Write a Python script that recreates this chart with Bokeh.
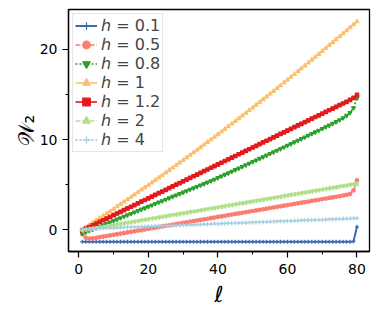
import math
from bokeh.plotting import figure
from bokeh.models import Range1d, SingleIntervalTicker, Legend, LegendItem
from bokeh.embed import file_html
from bokeh.resources import INLINE

ell = list(range(1, 81))

h_labels = ["ℎ = 0.1", "ℎ = 0.5", "ℎ = 0.8", "ℎ = 1", "ℎ = 1.2", "ℎ = 2", "ℎ = 4"]

w_h01 = [
    -1.35, -1.35, -1.35, -1.35, -1.35, -1.35, -1.35, -1.35, -1.35, -1.35,
    -1.35, -1.35, -1.35, -1.35, -1.35, -1.35, -1.35, -1.35, -1.35, -1.35,
    -1.35, -1.35, -1.35, -1.35, -1.35, -1.35, -1.35, -1.35, -1.35, -1.35,
    -1.35, -1.35, -1.35, -1.35, -1.35, -1.35, -1.35, -1.35, -1.35, -1.35,
    -1.35, -1.35, -1.35, -1.35, -1.35, -1.35, -1.35, -1.35, -1.35, -1.35,
    -1.35, -1.35, -1.35, -1.35, -1.35, -1.35, -1.35, -1.35, -1.35, -1.35,
    -1.35, -1.35, -1.35, -1.35, -1.35, -1.35, -1.35, -1.35, -1.35, -1.35,
    -1.35, -1.35, -1.35, -1.35, -1.35, -1.35, -1.35, -1.35, -1.32, 0.30,
]

w_h05 = [
    -0.50, -0.90, -1.00, -0.98, -0.91, -0.85, -0.78, -0.72, -0.65, -0.58,
    -0.52, -0.45, -0.39, -0.32, -0.25, -0.19, -0.12, -0.06, 0.01, 0.08,
    0.14, 0.21, 0.27, 0.34, 0.41, 0.47, 0.54, 0.60, 0.67, 0.74,
    0.80, 0.87, 0.93, 1.00, 1.07, 1.13, 1.20, 1.26, 1.33, 1.40,
    1.46, 1.53, 1.59, 1.66, 1.73, 1.79, 1.86, 1.92, 1.99, 2.06,
    2.12, 2.19, 2.25, 2.32, 2.39, 2.45, 2.52, 2.58, 2.65, 2.72,
    2.78, 2.85, 2.91, 2.98, 3.05, 3.11, 3.18, 3.24, 3.31, 3.38,
    3.44, 3.51, 3.57, 3.64, 3.71, 3.78, 3.86, 3.96, 4.35, 5.45,
]

w_h08 = [
    -0.45, -0.29, -0.13, 0.02, 0.18, 0.34, 0.50, 0.66, 0.81, 0.97,
    1.13, 1.29, 1.45, 1.60, 1.76, 1.92, 2.08, 2.24, 2.39, 2.55,
    2.71, 2.87, 3.03, 3.18, 3.34, 3.50, 3.66, 3.82, 3.97, 4.13,
    4.29, 4.45, 4.61, 4.76, 4.92, 5.08, 5.24, 5.40, 5.57, 5.75,
    5.92, 6.10, 6.27, 6.45, 6.63, 6.80, 6.98, 7.16, 7.34, 7.52,
    7.70, 7.88, 8.06, 8.24, 8.42, 8.60, 8.79, 8.97, 9.15, 9.34,
    9.52, 9.71, 9.89, 10.08, 10.26, 10.45, 10.64, 10.82, 11.01, 11.20,
    11.39, 11.58, 11.77, 11.96, 12.17, 12.40, 12.66, 12.98, 13.50, 14.60,
]

w_h1 = [
    0.00, 0.25, 0.50, 0.76, 1.01, 1.26, 1.52, 1.78, 2.03, 2.29,
    2.55, 2.81, 3.08, 3.34, 3.61, 3.87, 4.14, 4.41, 4.67, 4.94,
    5.21, 5.49, 5.76, 6.03, 6.31, 6.59, 6.86, 7.14, 7.42, 7.70,
    7.98, 8.27, 8.55, 8.83, 9.12, 9.41, 9.70, 9.99, 10.28, 10.57,
    10.86, 11.15, 11.45, 11.74, 12.04, 12.34, 12.64, 12.94, 13.24, 13.54,
    13.84, 14.15, 14.45, 14.76, 15.07, 15.37, 15.68, 16.00, 16.31, 16.62,
    16.93, 17.25, 17.56, 17.88, 18.20, 18.52, 18.84, 19.16, 19.48, 19.81,
    20.13, 20.46, 20.78, 21.11, 21.44, 21.77, 22.10, 22.43, 22.77, 23.10,
]

w_h12 = [
    -0.10, 0.09, 0.28, 0.46, 0.65, 0.84, 1.03, 1.22, 1.40, 1.59,
    1.78, 1.97, 2.16, 2.34, 2.53, 2.72, 2.91, 3.10, 3.28, 3.47,
    3.66, 3.85, 4.04, 4.22, 4.41, 4.60, 4.79, 4.98, 5.16, 5.35,
    5.54, 5.73, 5.92, 6.10, 6.29, 6.48, 6.67, 6.86, 7.04, 7.23,
    7.42, 7.61, 7.80, 7.98, 8.17, 8.36, 8.55, 8.74, 8.92, 9.11,
    9.30, 9.49, 9.68, 9.86, 10.05, 10.24, 10.43, 10.62, 10.80, 10.99,
    11.18, 11.37, 11.56, 11.74, 11.93, 12.12, 12.31, 12.50, 12.68, 12.87,
    13.06, 13.25, 13.44, 13.62, 13.81, 14.00, 14.19, 14.40, 14.62, 14.95,
]

w_h2 = [
    -0.10, -0.03, 0.03, 0.10, 0.16, 0.23, 0.29, 0.36, 0.43, 0.49,
    0.56, 0.62, 0.69, 0.76, 0.82, 0.89, 0.95, 1.02, 1.08, 1.15,
    1.22, 1.28, 1.35, 1.41, 1.48, 1.55, 1.61, 1.68, 1.74, 1.81,
    1.87, 1.94, 2.01, 2.07, 2.14, 2.20, 2.27, 2.33, 2.40, 2.47,
    2.53, 2.60, 2.66, 2.73, 2.80, 2.86, 2.93, 2.99, 3.06, 3.12,
    3.19, 3.26, 3.32, 3.39, 3.45, 3.52, 3.58, 3.65, 3.72, 3.78,
    3.85, 3.91, 3.98, 4.05, 4.11, 4.18, 4.24, 4.31, 4.37, 4.44,
    4.51, 4.57, 4.64, 4.70, 4.77, 4.84, 4.90, 4.97, 5.03, 5.10,
]

w_h4 = [
    0.05, 0.07, 0.08, 0.10, 0.11, 0.13, 0.14, 0.16, 0.17, 0.19,
    0.20, 0.22, 0.23, 0.25, 0.26, 0.28, 0.29, 0.31, 0.32, 0.34,
    0.35, 0.37, 0.38, 0.40, 0.41, 0.43, 0.45, 0.46, 0.48, 0.49,
    0.51, 0.52, 0.54, 0.55, 0.57, 0.58, 0.60, 0.61, 0.63, 0.64,
    0.66, 0.67, 0.69, 0.70, 0.72, 0.73, 0.75, 0.76, 0.78, 0.79,
    0.81, 0.83, 0.84, 0.86, 0.87, 0.89, 0.90, 0.92, 0.93, 0.95,
    0.96, 0.98, 0.99, 1.01, 1.02, 1.04, 1.05, 1.07, 1.08, 1.10,
    1.11, 1.13, 1.14, 1.16, 1.17, 1.19, 1.21, 1.22, 1.24, 1.25,
]

series = [w_h01, w_h05, w_h08, w_h1, w_h12, w_h2, w_h4]

colors = ["#3a6bb5", "#fb7d6f", "#2ca02c", "#fdbf6f", "#e31a1c", "#b2df8a", "#a6cee3"]
dashes = ["solid", "5 2", "2 2", "8 2 2 2", "solid", "5 2", "2 2"]
markers = ["cross", "circle", "inverted_triangle", "triangle", "square", "triangle", "cross"]
angles = [0, 0, 0, 0, 0, math.pi / 2, 0]
msizes = [4, 3.5, 4, 4, 3.5, 4, 4.5]
lwidths = [2.0, 1.6, 1.6, 1.6, 1.6, 1.6, 2.0]

FONT = "DejaVu Sans"

p = figure(width=379, height=316, output_backend="svg", toolbar_location=None,
           x_range=Range1d(-2.96, 83.6), y_range=Range1d(-2.44, 24.44),
           min_border_left=68, min_border_right=10, min_border_top=9, min_border_bottom=65)
p.background_fill_color = "white"
p.border_fill_color = "white"
p.outline_line_color = "black"
p.outline_line_width = 1.3
p.xgrid.visible = False
p.ygrid.visible = False

items = []
for lab, ys, c, d, m, a, ms, lw in zip(h_labels, series, colors, dashes, markers, angles, msizes, lwidths):
    r1 = p.line(ell, ys, line_color=c, line_width=lw, line_dash=d)
    r2 = p.scatter(ell, ys, marker=m, size=ms, angle=a, fill_color=c, line_color=c, line_width=1.2)
    items.append(LegendItem(label=lab, renderers=[r1, r2]))

legend = Legend(items=items, location="top_left")
legend.label_text_font = FONT
legend.label_text_font_size = "16px"
legend.label_standoff = 4
legend.glyph_width = 22
legend.glyph_height = 19
legend.label_height = 19
legend.spacing = 0
legend.padding = 2
legend.margin = 4
legend.border_line_color = "#cccccc"
legend.border_line_width = 1
legend.background_fill_alpha = 0.8
p.add_layout(legend)

p.xaxis.ticker = SingleIntervalTicker(interval=20, num_minor_ticks=2)
p.yaxis.ticker = SingleIntervalTicker(interval=10, num_minor_ticks=2)
for ax in (p.xaxis, p.yaxis):
    ax.axis_line_color = "black"
    ax.axis_line_width = 1.3
    ax.major_tick_line_color = "black"
    ax.major_tick_line_width = 1.2
    ax.minor_tick_line_color = "black"
    ax.minor_tick_line_width = 1
    ax.major_tick_in = 0
    ax.major_tick_out = 6
    ax.minor_tick_in = 0
    ax.minor_tick_out = 3
    ax.major_label_text_font = FONT
    ax.major_label_text_font_size = "14px"
    ax.major_label_text_color = "black"
    ax.axis_label_text_font = FONT
    ax.axis_label_text_font_style = "normal"
    ax.axis_label_text_color = "black"

p.xaxis.axis_label = "ℓ"
p.xaxis.axis_label_text_font_size = "22px"
p.xaxis.major_label_standoff = 6
p.xaxis.axis_label_standoff = 5
p.yaxis.axis_label = "𝒲₂"
p.yaxis.axis_label_text_font_size = "22px"
p.yaxis.major_label_standoff = 5
p.yaxis.axis_label_standoff = -2

open("out.html", "w").write(file_html(p, INLINE))
